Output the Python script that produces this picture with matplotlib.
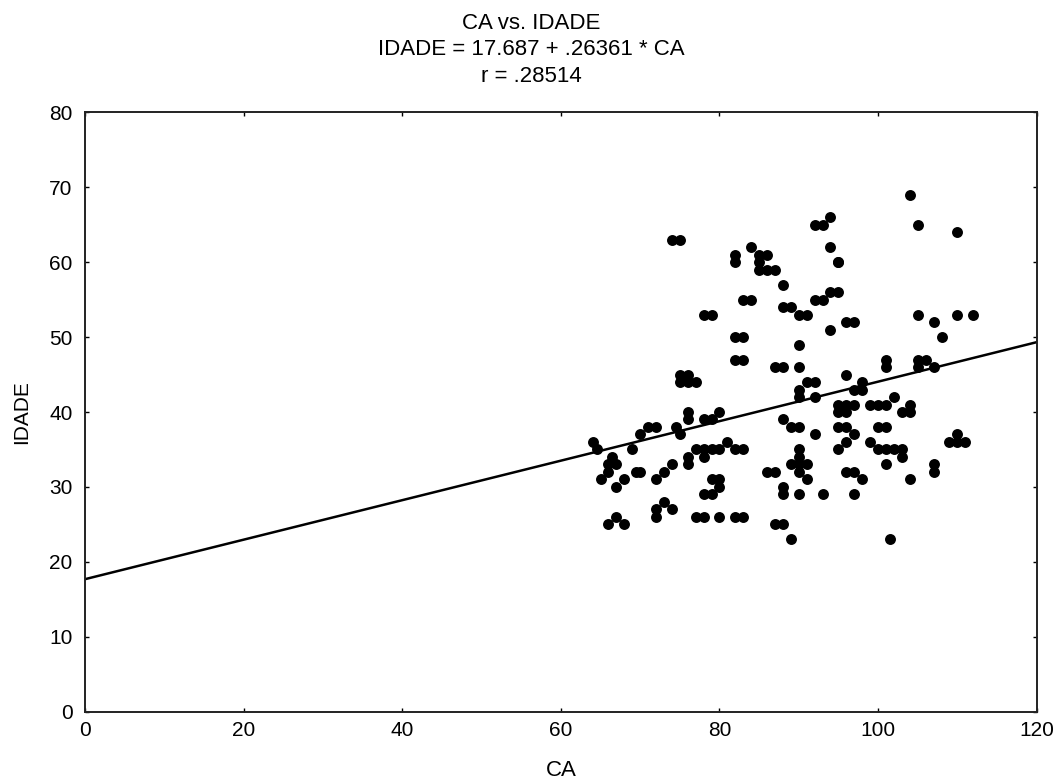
import matplotlib
matplotlib.use("Agg")
import matplotlib.pyplot as plt
import numpy as np

plt.rcParams['font.family'] = ['Liberation Sans', 'DejaVu Sans']

ca = [64, 64.5, 65, 66, 66, 66, 66.5, 67, 67, 67, 68, 68, 69, 69.5, 70, 70, 71, 72, 72, 72, 72,
      73, 73, 74, 74, 74.5, 74, 75, 75, 75, 75, 76, 76, 76, 76, 76, 76, 77, 77, 77,
      78, 78, 78, 78, 78, 79, 78, 79, 79, 79, 79, 80, 80, 80, 80, 80, 81,
      82, 82, 82, 82, 82, 82, 83, 83, 83, 83, 83, 84, 84, 85, 85, 85, 86, 86, 86,
      87, 87, 87, 87, 88, 88, 88, 88, 88, 88, 88, 89, 89, 89, 89,
      90, 90, 90, 90, 90, 90, 90, 90, 90, 90, 90, 91, 91, 91, 91,
      92, 92, 92, 92, 92, 93, 93, 93, 94, 94, 94, 94, 95, 95, 95, 95, 95, 95, 95,
      96, 96, 96, 96, 96, 96, 96, 97, 97, 97, 97, 97, 97, 98, 98, 98, 99, 99,
      100, 100, 100, 101, 101, 101, 101, 101, 101, 101.5, 102, 102, 103, 103, 103,
      104, 104, 104, 104, 105, 105, 105, 105, 106, 107, 107, 107, 107, 108, 109,
      110, 110, 110, 110, 111, 112]
idade = [36, 35, 31, 32, 25, 33, 34, 33, 30, 26, 25, 31, 35, 32, 32, 37, 38, 38, 31, 27, 26,
         32, 28, 27, 33, 38, 63, 63, 37, 44, 45, 45, 44, 40, 39, 34, 33, 44, 35, 26,
         39, 29, 26, 35, 53, 53, 34, 39, 31, 29, 35, 40, 31, 30, 35, 26, 36,
         61, 60, 50, 47, 35, 26, 50, 47, 26, 55, 35, 62, 55, 60, 61, 59, 59, 61, 32,
         59, 46, 25, 32, 46, 57, 54, 39, 30, 29, 25, 54, 38, 33, 23,
         53, 49, 46, 43, 42, 38, 35, 34, 33, 32, 29, 53, 44, 33, 31,
         55, 44, 42, 37, 65, 65, 55, 29, 62, 66, 56, 51, 56, 60, 41, 40, 38, 35, 60,
         45, 41, 40, 38, 36, 32, 52, 52, 41, 37, 32, 29, 43, 44, 43, 31, 41, 36,
         41, 38, 35, 41, 38, 47, 46, 35, 33, 23, 42, 35, 35, 40, 34,
         41, 40, 31, 69, 65, 53, 47, 46, 47, 52, 46, 33, 32, 50, 36,
         64, 53, 37, 36, 36, 53]

intercept = 17.687
slope = 0.26361

fig = plt.figure(figsize=(10.58, 7.83), dpi=100)
ax = fig.add_axes([85/1058, 1-711.7/783, (1036.7-85)/1058, (711.7-112.3)/783])

ax.scatter(ca, idade, s=62, color='black', zorder=3, linewidths=0)
xl = np.array([0, 120])
ax.plot(xl, intercept + slope*xl, color='black', lw=1.8, zorder=2)

ax.set_xlim(0, 120)
ax.set_ylim(0, 80)
ax.set_xticks(np.arange(0, 121, 20))
ax.set_yticks(np.arange(0, 81, 10))
ax.tick_params(direction='in', length=3, width=1, labelsize=15, top=True, right=True)
ax.tick_params(axis='x', pad=7)
ax.tick_params(axis='y', pad=9)
for sp in ax.spines.values():
    sp.set_linewidth(1.4)
    sp.set_color('#222222')

ax.set_xlabel('CA', fontsize=16, labelpad=14)
ax.set_ylabel('IDADE', fontsize=15, labelpad=13)
ax.set_title('CA vs. IDADE\nIDADE = 17.687 + .26361 * CA\nr = .28514',
             fontsize=16, linespacing=1.35, pad=22, x=(531-85)/951.7)

fig.savefig('out.png', dpi=100)
